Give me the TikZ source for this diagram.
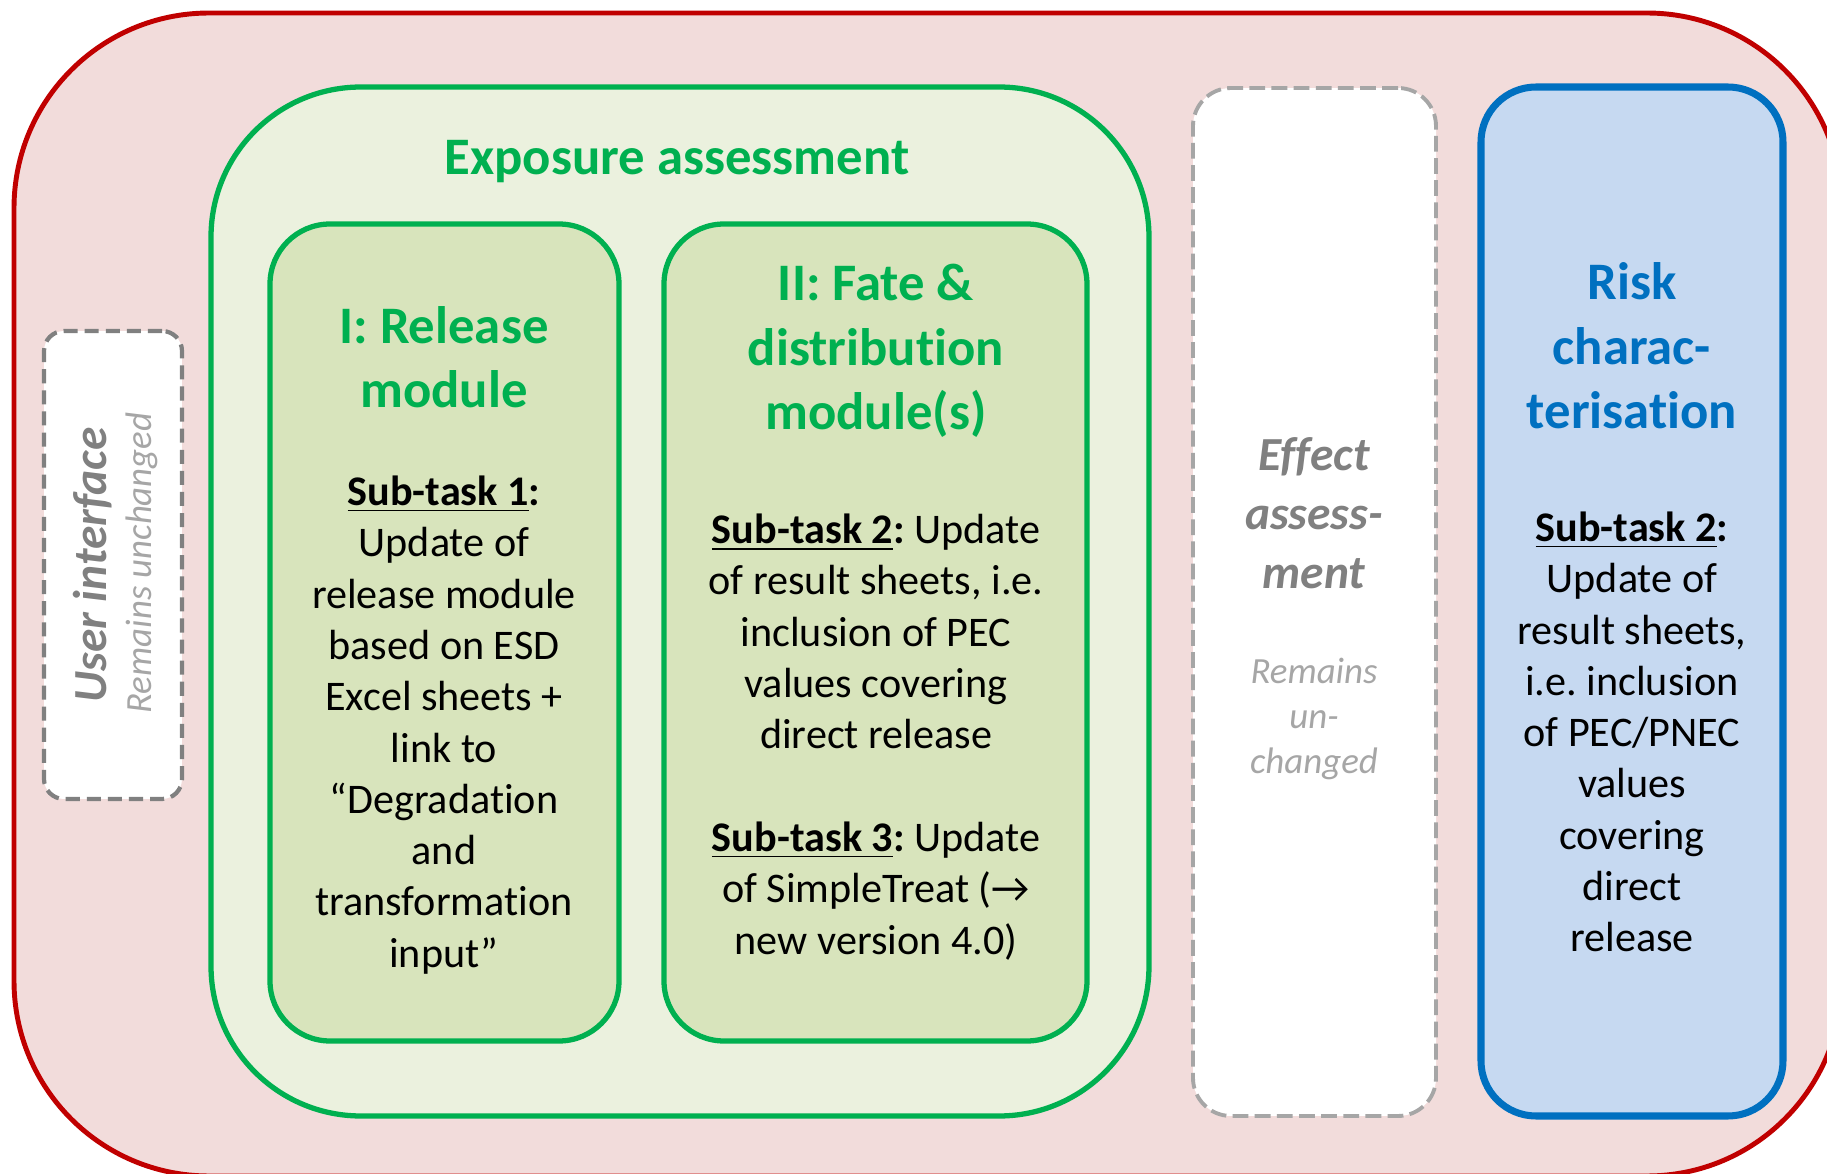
\documentclass[tikz,border=0pt]{standalone}
\usepackage{fontspec}
\setmainfont{Carlito}[Ligatures=NoCommon]
\usepackage{xcolor}
\usepackage{tikz}
\frenchspacing
\definecolor{Frame}{HTML}{C00000}
\definecolor{FrameFill}{HTML}{F2DCDB}
\definecolor{Green}{HTML}{00B050}
\definecolor{SoftGreen}{HTML}{EBF1DE}
\definecolor{ModGreen}{HTML}{D8E4BC}
\definecolor{Blue}{HTML}{0070C0}
\definecolor{SoftBlue}{HTML}{C6D9F1}
\definecolor{Grey}{HTML}{808080}
\definecolor{LightGrey}{HTML}{A6A6A6}
\newcommand{\subtask}[1]{\textbf{\underline{Sub-task #1}:}}
\tikzset{
  frame/.style={draw=Frame,fill=FrameFill,line width=1.4pt,rounded corners=19.5mm,inner sep=0pt},
  panel/.style={draw=Green,fill=SoftGreen,line width=1.5pt,rounded corners=15mm,inner sep=0pt},
  module/.style={draw=Green,fill=ModGreen,line width=1.5pt,rounded corners=6mm,inner sep=0pt,minimum height=81.7mm},
  uibox/.style={draw=Grey,fill=white,line width=1.2pt,dash pattern=on 4pt off 2pt,rounded corners=2mm,inner sep=0pt},
  effectbox/.style={draw=LightGrey,fill=white,line width=1.1pt,dash pattern=on 4.5pt off 1.8pt,rounded corners=3.8mm,inner sep=0pt},
  riskpanel/.style={draw=Blue,fill=SoftBlue,line width=2pt,rounded corners=5.5mm,inner sep=0pt},
  heading/.style={align=center,font=\fontsize{15}{18.3}\selectfont\bfseries,inner sep=0pt},
  body/.style={align=center,font=\fontsize{12}{14.6}\selectfont,inner sep=0pt},
  greytitle/.style={align=center,text=Grey,font=\fontsize{13.5}{16.7}\selectfont\bfseries\itshape,inner sep=0pt},
  greynote/.style={align=center,text=LightGrey,font=\fontsize{10.5}{12.8}\selectfont\itshape,inner sep=0pt}
}
\begin{document}
\begin{tikzpicture}[x=0.1mm,y=-0.1mm]
  \useasboundingbox (0,0) rectangle (1827,1174);
  \clip (0,0) rectangle (1827,1174);
  % outer frame
  \node[frame,minimum width=182.8mm,minimum height=116.3mm] (frame) at (928,594.5) {};
  % user interface
  \node[uibox,minimum width=13.8mm,minimum height=46.8mm] (ui) at (113,565) {};
  \node[greytitle,rotate=90] (uiT) at (93,565) {User interface};
  \node[greynote,rotate=90] (uiS) at (142,563) {Remains unchanged};
  % exposure assessment with its two modules
  \node[panel,minimum width=93.8mm,minimum height=102.9mm] (expo) at (680,601.5) {};
  \node[heading,text=Green] (expoT) at (677,162) {Exposure assessment};
  \node[module,minimum width=34.9mm] (rel) at (444.5,632.5) {};
  \node[heading,text=Green] (relT) at (444,357) {I: Release\\module};
  \node[body] (relB) at (444,725) {\subtask{1}\\Update of\\release module\\based on ESD\\Excel sheets +\\link to\\“Degradation\\and\\transformation\\input”};
  \node[module,minimum width=42.3mm] (fate) at (875.5,632.5) {};
  \node[heading,text=Green] (fateT) at (876,351) {II: Fate \&\\distribution\\module(s)};
  \node[body] (fateB) at (876,737) {\subtask{2} Update\\of result sheets, i.e.\\inclusion of PEC\\values covering\\direct release\\[14.6pt]\subtask{3} Update\\of SimpleTreat (→\\new version 4.0)};
  % effect assessment
  \node[effectbox,minimum width=24.3mm,minimum height=102.8mm] (effect) at (1314.5,602) {};
  \node[greytitle] (effectT) at (1314,513) {Effect\\assess-\\ment};
  \node[greynote] (effectS) at (1314,719) {Remains\\un-\\changed};
  % risk characterisation
  \node[riskpanel,minimum width=30.2mm,minimum height=102.9mm] (risk) at (1632,601.5) {};
  \node[heading,text=Blue] (riskT) at (1632,346) {Risk\\charac-\\terisation};
  \node[body] (riskB) at (1632,732) {\subtask{2}\\Update of\\result sheets,\\i.e. inclusion\\of PEC/PNEC\\values\\covering\\direct\\release};
\end{tikzpicture}
\end{document}
